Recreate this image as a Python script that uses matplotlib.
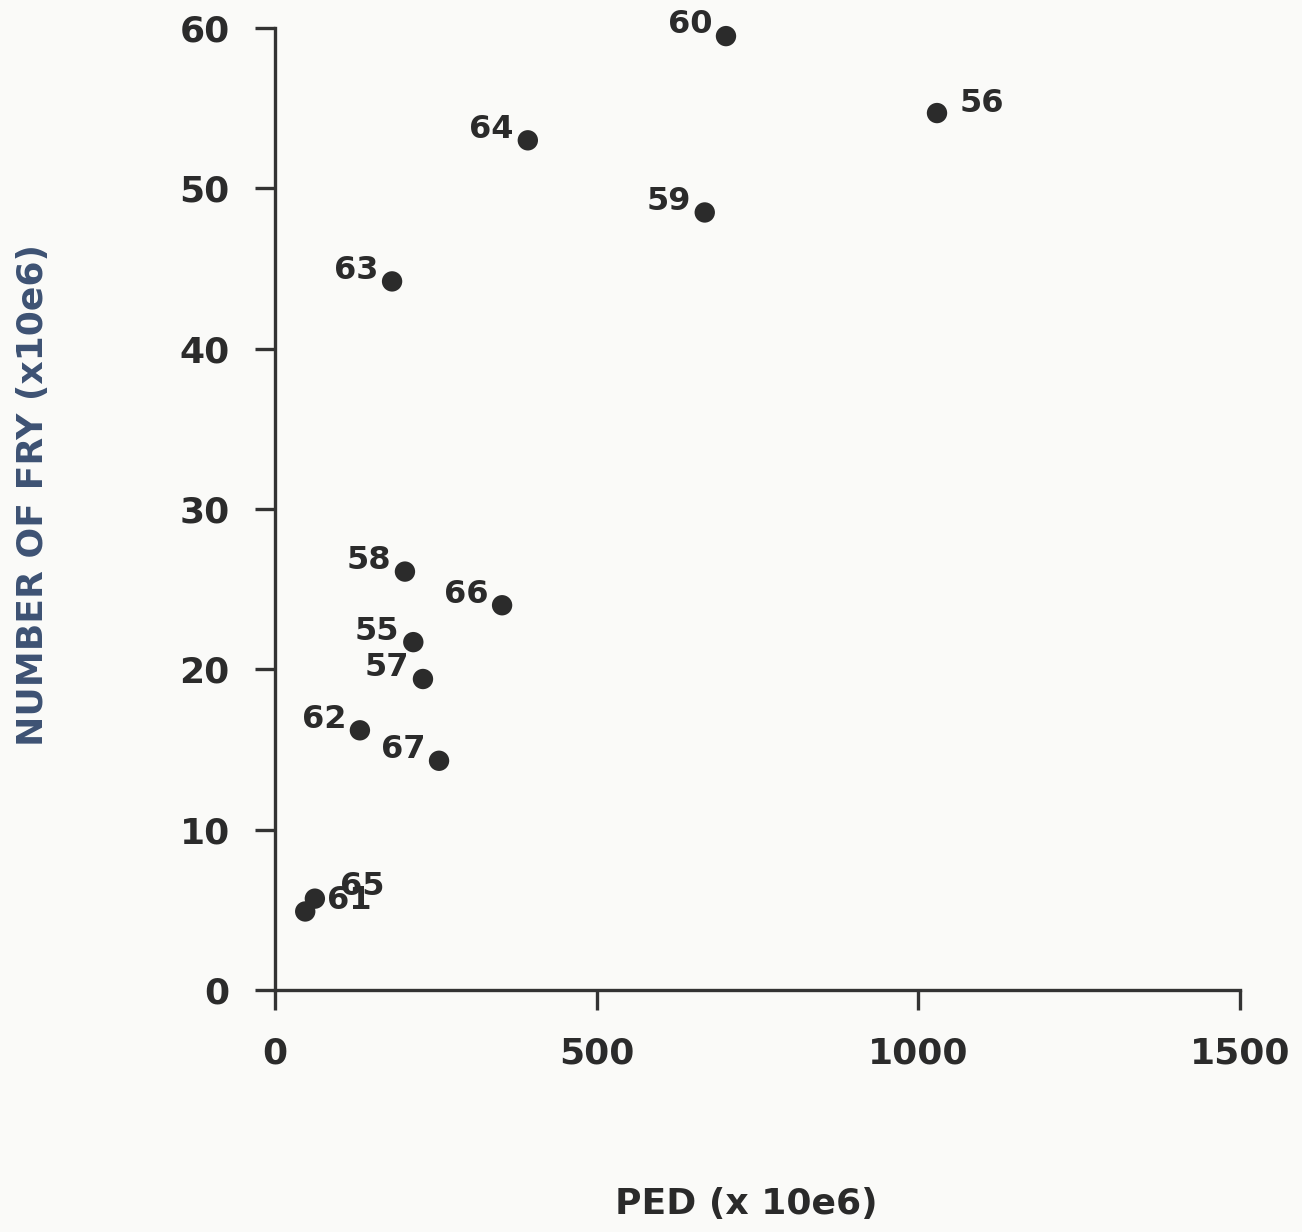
import matplotlib
matplotlib.use('Agg')
import matplotlib.pyplot as plt

# Spawning years, parent egg deposition (PED) and resulting fry, both x 10e6
YEARS = ['55', '56', '57', '58', '59', '60', '61', '62', '63', '64', '65', '66', '67']
PED = [215, 1029, 230, 202, 668, 701, 47, 132, 182, 393, 62, 353, 255]
FRY = [21.7, 54.7, 19.4, 26.1, 48.5, 59.5, 4.9, 16.2, 44.2, 53.0, 5.7, 24.0, 14.3]

X_TICKS = [0, 500, 1000, 1500]
Y_TICKS = [0, 10, 20, 30, 40, 50, 60]

# label offsets (points) - most years sit up-left of their dot
LABEL_OFFSET = {'56': (16, 7), '61': (16, 8), '65': (18, 9)}
DEFAULT_OFFSET = (-10, 8)

INK = '#2b2b2b'
BLUE_INK = '#3d5273'
FONT = 'DejaVu Sans'


def main():
    fig = plt.figure(figsize=(13.02, 12.32), dpi=100, facecolor='#fafaf8')
    ax = fig.add_axes([0.2112, 0.1964, 0.7412, 0.7808])
    ax.set_facecolor('none')

    ax.scatter(PED, FRY, s=215, color=INK, edgecolors='none', zorder=3, clip_on=False)

    for year, x, y in zip(YEARS, PED, FRY):
        dx, dy = LABEL_OFFSET.get(year, DEFAULT_OFFSET)
        ax.annotate(year, (x, y), xytext=(dx, dy), textcoords='offset points',
                    ha='left' if dx > 0 else 'right', va='center',
                    fontsize=23, fontweight='bold', family=FONT, color=INK)

    ax.set_xlim(0, 1500)
    ax.set_ylim(0, 60)
    ax.set_xticks(X_TICKS)
    ax.set_yticks(Y_TICKS)

    for side in ['top', 'right']:
        ax.spines[side].set_visible(False)
    for side in ['left', 'bottom']:
        ax.spines[side].set_linewidth(2.4)
        ax.spines[side].set_color('#333333')

    ax.tick_params(direction='out', length=14.5, width=2.4, color='#333333',
                   labelsize=26, labelcolor=INK)
    ax.tick_params(axis='y', pad=18)
    ax.tick_params(axis='x', pad=19)
    for lab in ax.get_xticklabels() + ax.get_yticklabels():
        lab.set_fontweight('bold')
        lab.set_family(FONT)

    fig.text(0.573, 0.009, 'PED (x 10e6)', ha='center', va='bottom',
             fontsize=26, fontweight='bold', family=FONT, color='#2a2a2a')
    fig.text(0.025, 0.598, 'NUMBER OF FRY (x10e6)', ha='center', va='center',
             rotation=90, fontsize=26, fontweight='bold', family=FONT, color=BLUE_INK)

    fig.savefig('out.png', dpi=100, facecolor=fig.get_facecolor())


if __name__ == "__main__":
    main()
